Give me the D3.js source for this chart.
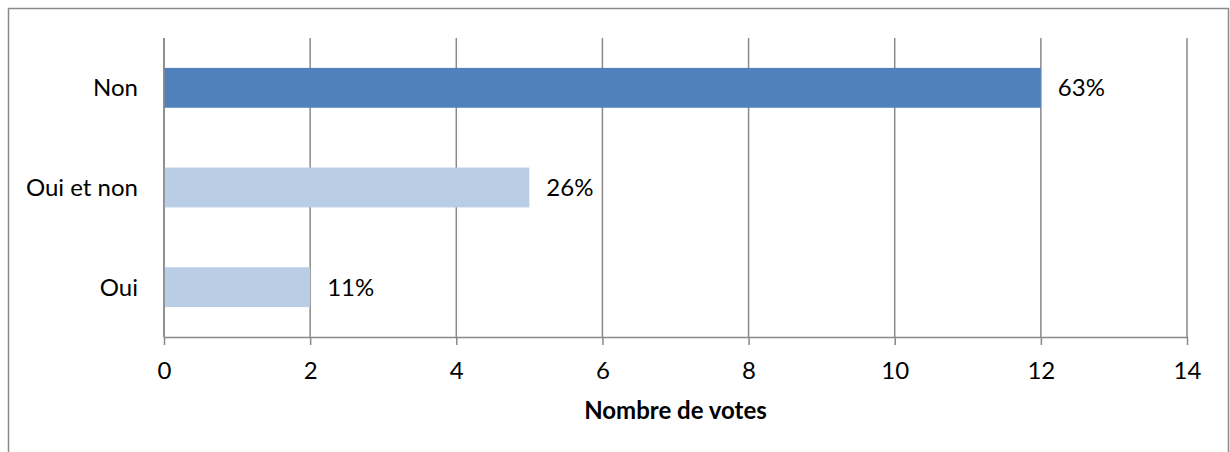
<!DOCTYPE html>
<html><head><meta charset="utf-8">
<script src="https://cdn.jsdelivr.net/npm/d3@7"></script>
<style>body{margin:0;background:#fff}svg{display:block}</style>
</head><body><svg id="c" width="1230" height="452"></svg>
<script>
const categories = ["Non", "Oui et non", "Oui"];
const votes = [12, 5, 2];
const percentLabels = ["63%", "26%", "11%"];
const barColors = ["#4F81BD", "#B9CDE5", "#B9CDE5"];
const xTicks = [0, 2, 4, 6, 8, 10, 12, 14];
const xTitle = "Nombre de votes";

const svg = d3.select("#c");
const FONT = "Lato, 'Liberation Sans', sans-serif";
const FS = 24;
const grid = "#898989";
const m = {left:164, right:1187, top:38, bottom:337};

// border
svg.append("path").attr("d","M8.5,452 V8.5 H1228.5 V452")
  .attr("fill","none").attr("stroke","#8a8a8a").attr("stroke-width",1.5);

const x = d3.scaleLinear().domain([0,14]).range([m.left,m.right]);
const y = d3.scaleBand().domain(categories).range([m.top,m.bottom]).paddingInner(0.6).paddingOuter(0.3);

// gridlines
svg.append("g").selectAll("line").data(xTicks).join("line")
  .attr("x1",d=>x(d)).attr("x2",d=>x(d)).attr("y1",m.top).attr("y2",m.bottom)
  .attr("stroke",grid).attr("stroke-width",1.5);

// bars
svg.append("g").selectAll("rect").data(votes).join("rect")
  .attr("x",x(0)).attr("y",(d,i)=>y(categories[i]))
  .attr("width",d=>x(d)-x(0)).attr("height",y.bandwidth())
  .attr("fill",(d,i)=>barColors[i]);

// x axis
const xa = svg.append("g").attr("transform",`translate(0,${m.bottom})`)
  .call(d3.axisBottom(x).tickValues(xTicks).tickSize(8).tickPadding(17).tickSizeOuter(0));
xa.select(".domain").attr("stroke",grid).attr("stroke-width",1.5);
xa.selectAll(".tick line").attr("stroke",grid).attr("stroke-width",1.5);
xa.selectAll("text").attr("font-family",FONT).attr("font-size",FS).attr("fill","#000");

// y axis line
svg.append("line").attr("x1",x(0)).attr("x2",x(0)).attr("y1",m.top).attr("y2",m.bottom)
  .attr("stroke",grid).attr("stroke-width",1.5);

// category labels
svg.append("g").selectAll("text").data(categories).join("text")
  .attr("x",x(0)-26).attr("y",d=>y(d)+y.bandwidth()/2).attr("dy","0.35em")
  .attr("text-anchor","end").attr("font-family",FONT).attr("font-size",FS).attr("fill","#000")
  .text(d=>d);

// value labels
svg.append("g").selectAll("text").data(votes).join("text")
  .attr("x",d=>x(d)+17).attr("y",(d,i)=>y(categories[i])+y.bandwidth()/2).attr("dy","0.35em")
  .attr("font-family",FONT).attr("font-size",FS).attr("fill","#000")
  .text((d,i)=>percentLabels[i]);

// axis title
svg.append("text").attr("x",(m.left+m.right)/2).attr("y",419)
  .attr("text-anchor","middle").attr("font-family",FONT).attr("font-size",FS)
  .attr("font-weight","bold").attr("fill","#000").text(xTitle);
</script></body></html>
